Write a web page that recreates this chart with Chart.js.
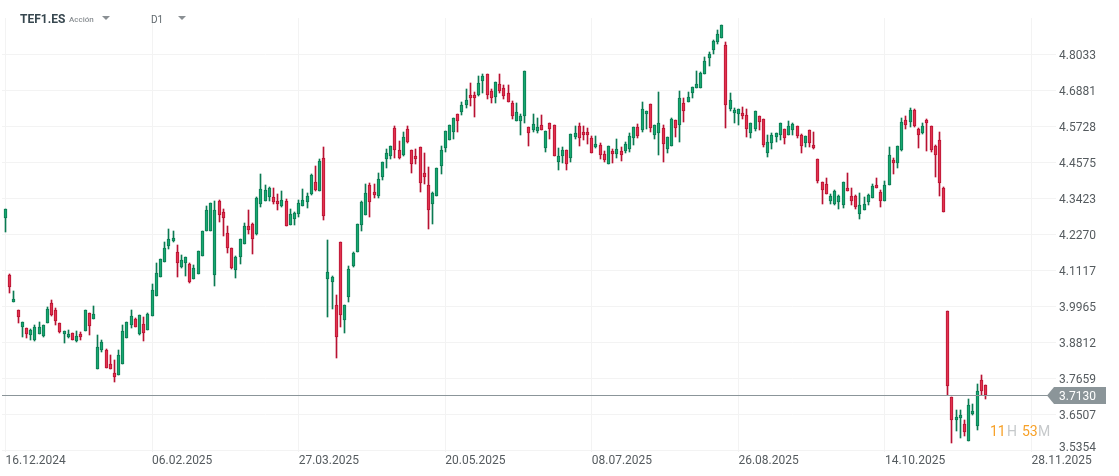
<!DOCTYPE html>
<html>
<head>
<meta charset="utf-8">
<title>TEF1.ES</title>
<script src="https://cdn.jsdelivr.net/npm/chart.js@4"></script>
<style>
    html, body { margin: 0; padding: 0; background: #fff; overflow: hidden; }
    body { width: 1119px; height: 476px; position: relative; font-family: Roboto, sans-serif; }
    canvas { position: absolute; left: 0; top: 0; }
    .lbl { position: absolute; white-space: nowrap; line-height: 1; }
    .tri { position: absolute; width: 0; height: 0; border-left: 4px solid transparent; border-right: 4px solid transparent; border-top: 4px solid #8a8f93; }
</style>
</head>
<body>
<canvas id="chart" width="1119" height="476"></canvas>
<div class="lbl" style="left:20px;top:13px;font-size:12px;font-weight:700;color:#37474f">TEF1.ES</div>
<div class="lbl" style="left:69px;top:16px;font-size:8px;font-weight:500;color:#8a8f93">Acción</div>
<div class="tri" style="left:102px;top:16px"></div>
<div class="lbl" style="left:151px;top:15px;font-size:10px;color:#60686d">D1</div>
<div class="tri" style="left:178px;top:16px"></div>
<div class="lbl" style="left:990px;top:424px;font-size:14px;color:#f7a128">11</div>
<div class="lbl" style="left:1007px;top:424px;font-size:14px;color:#c6c9cb">H</div>
<div class="lbl" style="left:1022px;top:424px;font-size:14px;color:#f7a128">53</div>
<div class="lbl" style="left:1038px;top:424px;font-size:14px;color:#c6c9cb">M</div>
<script>
// candle values, one entry per trading day
const openPrices = [
    4.280,4.097,4.011,3.984,3.931,3.926,3.906,3.889,3.909,3.902,
    3.944,4.006,3.985,3.942,3.909,3.899,3.910,3.886,3.908,3.918,
    3.974,3.957,3.797,3.858,3.857,3.811,3.782,3.778,3.813,3.896,
    3.938,3.956,3.909,3.939,3.920,3.964,4.031,4.091,4.139,4.191,
    4.207,4.169,4.122,4.136,4.131,4.085,4.101,4.159,4.239,4.239,
    4.098,4.333,4.297,4.230,4.182,4.114,4.155,4.197,4.253,4.259,
    4.229,4.325,4.335,4.348,4.345,4.334,4.319,4.333,4.258,4.277,
    4.293,4.319,4.332,4.356,4.393,4.367,4.470,4.085,4.074,4.000,
    4.201,3.954,4.027,4.126,4.171,4.258,4.290,4.384,4.361,4.351,
    4.412,4.469,4.479,4.566,4.496,4.482,4.563,4.496,4.477,4.506,
    4.422,4.384,4.325,4.351,4.447,4.505,4.528,4.556,4.611,4.620,
    4.642,4.672,4.672,4.674,4.719,4.739,4.685,4.668,4.707,4.694,
    4.678,4.646,4.591,4.591,4.605,4.570,4.562,4.559,4.576,4.502,
    4.582,4.576,4.460,4.479,4.496,4.473,4.540,4.573,4.554,4.554,
    4.534,4.508,4.512,4.483,4.453,4.493,4.485,4.493,4.495,4.501,
    4.537,4.570,4.562,4.613,4.643,4.546,4.553,4.566,4.501,4.511,
    4.592,4.578,4.647,4.650,4.681,4.695,4.695,4.741,4.793,4.818,
    4.844,4.855,4.832,4.629,4.617,4.613,4.614,4.608,4.553,4.565,
    4.605,4.595,4.488,4.520,4.540,4.546,4.563,4.546,4.562,4.573,
    4.544,4.520,4.560,4.512,4.467,4.394,4.387,4.335,4.325,4.332,
    4.322,4.374,4.349,4.349,4.293,4.306,4.332,4.344,4.384,4.361,
    4.335,4.384,4.465,4.456,4.498,4.592,4.586,4.624,4.563,4.553,
    4.592,4.573,4.509,4.528,4.374,3.981,3.705,3.634,3.640,3.619,
    3.566,3.653,3.614,3.760,3.744
];
const highPrices = [
    4.307,4.100,4.046,3.984,3.945,3.926,3.924,3.937,3.946,3.936,
    3.994,4.017,3.990,3.944,3.916,3.921,3.910,3.917,3.914,3.984,
    3.974,3.997,3.905,3.889,3.859,3.841,3.825,3.857,3.937,3.945,
    3.985,3.958,3.968,3.962,3.974,4.068,4.135,4.147,4.202,4.243,
    4.238,4.193,4.161,4.156,4.134,4.129,4.173,4.237,4.318,4.326,
    4.334,4.337,4.307,4.253,4.182,4.157,4.211,4.262,4.305,4.262,
    4.345,4.420,4.384,4.377,4.374,4.355,4.366,4.339,4.307,4.297,
    4.336,4.371,4.358,4.420,4.446,4.468,4.506,4.209,4.093,4.033,
    4.201,4.000,4.126,4.169,4.259,4.333,4.387,4.390,4.387,4.422,
    4.458,4.500,4.509,4.574,4.526,4.555,4.574,4.496,4.499,4.506,
    4.486,4.442,4.361,4.438,4.509,4.557,4.576,4.598,4.611,4.650,
    4.692,4.712,4.683,4.734,4.739,4.739,4.691,4.714,4.740,4.705,
    4.705,4.653,4.646,4.611,4.749,4.570,4.612,4.598,4.609,4.557,
    4.582,4.576,4.502,4.507,4.496,4.547,4.573,4.582,4.573,4.566,
    4.541,4.541,4.520,4.494,4.509,4.499,4.531,4.508,4.522,4.550,
    4.570,4.579,4.650,4.621,4.643,4.576,4.682,4.576,4.538,4.598,
    4.592,4.685,4.663,4.682,4.698,4.750,4.746,4.795,4.810,4.849,
    4.881,4.896,4.842,4.679,4.630,4.627,4.634,4.627,4.582,4.621,
    4.605,4.595,4.544,4.553,4.550,4.582,4.563,4.589,4.582,4.573,
    4.547,4.541,4.560,4.555,4.467,4.394,4.406,4.355,4.369,4.352,
    4.394,4.422,4.374,4.352,4.358,4.348,4.355,4.387,4.406,4.369,
    4.398,4.506,4.473,4.509,4.598,4.605,4.630,4.627,4.566,4.582,
    4.595,4.575,4.512,4.555,4.377,3.981,3.705,3.664,3.663,3.631,
    3.699,3.683,3.747,3.776,3.744
];
const lowPrices = [
    4.234,4.040,4.011,3.944,3.899,3.896,3.890,3.886,3.907,3.899,
    3.944,3.967,3.938,3.912,3.879,3.896,3.890,3.883,3.889,3.918,
    3.905,3.957,3.797,3.851,3.800,3.797,3.755,3.778,3.813,3.894,
    3.928,3.931,3.906,3.886,3.920,3.964,4.031,4.091,4.139,4.181,
    4.203,4.091,4.119,4.095,4.072,4.085,4.101,4.159,4.239,4.239,
    4.063,4.266,4.222,4.168,4.117,4.087,4.132,4.197,4.228,4.164,
    4.225,4.315,4.335,4.334,4.324,4.305,4.315,4.255,4.258,4.257,
    4.281,4.319,4.311,4.353,4.367,4.367,4.273,3.963,3.989,3.831,
    3.931,3.912,4.010,4.123,4.171,4.238,4.290,4.281,4.344,4.344,
    4.401,4.441,4.469,4.473,4.469,4.479,4.521,4.425,4.453,4.363,
    4.388,4.245,4.261,4.351,4.421,4.492,4.528,4.533,4.556,4.609,
    4.633,4.638,4.604,4.671,4.681,4.661,4.649,4.649,4.681,4.661,
    4.650,4.596,4.591,4.546,4.585,4.510,4.555,4.553,4.562,4.491,
    4.532,4.479,4.433,4.457,4.434,4.459,4.532,4.511,4.529,4.516,
    4.489,4.503,4.469,4.460,4.453,4.457,4.473,4.463,4.489,4.492,
    4.514,4.537,4.556,4.565,4.556,4.532,4.482,4.460,4.489,4.511,
    4.540,4.524,4.588,4.650,4.665,4.695,4.695,4.739,4.767,4.806,
    4.838,4.855,4.569,4.623,4.585,4.578,4.597,4.540,4.537,4.559,
    4.561,4.508,4.476,4.501,4.524,4.529,4.516,4.546,4.546,4.534,
    4.488,4.508,4.506,4.501,4.392,4.325,4.357,4.324,4.322,4.309,
    4.312,4.367,4.322,4.309,4.276,4.306,4.322,4.344,4.376,4.316,
    4.335,4.384,4.421,4.440,4.495,4.563,4.572,4.572,4.503,4.549,
    4.495,4.492,4.412,4.350,4.300,3.712,3.560,3.598,3.576,3.582,
    3.566,3.647,3.600,3.712,3.700
];
const closePrices = [
    4.307,4.059,4.019,3.963,3.945,3.909,3.920,3.929,3.929,3.936,
    3.987,3.970,3.950,3.915,3.916,3.907,3.890,3.900,3.899,3.984,
    3.934,3.971,3.865,3.881,3.800,3.797,3.771,3.840,3.916,3.945,
    3.964,3.931,3.968,3.912,3.971,4.048,4.102,4.147,4.182,4.211,
    4.214,4.136,4.144,4.156,4.075,4.118,4.173,4.237,4.304,4.326,
    4.304,4.290,4.280,4.184,4.120,4.153,4.211,4.253,4.242,4.213,
    4.342,4.371,4.368,4.374,4.331,4.325,4.336,4.255,4.291,4.294,
    4.326,4.336,4.349,4.416,4.370,4.461,4.287,4.105,4.089,3.899,
    3.970,4.000,4.115,4.166,4.259,4.329,4.358,4.332,4.354,4.403,
    4.458,4.486,4.509,4.498,4.473,4.538,4.524,4.453,4.469,4.392,
    4.412,4.306,4.358,4.438,4.496,4.557,4.576,4.598,4.589,4.640,
    4.656,4.665,4.665,4.711,4.733,4.674,4.665,4.714,4.686,4.671,
    4.652,4.607,4.618,4.605,4.749,4.553,4.579,4.570,4.562,4.557,
    4.565,4.479,4.477,4.496,4.453,4.547,4.550,4.537,4.546,4.546,
    4.489,4.515,4.482,4.466,4.509,4.485,4.499,4.482,4.515,4.541,
    4.570,4.543,4.627,4.621,4.569,4.576,4.582,4.517,4.538,4.595,
    4.569,4.663,4.623,4.666,4.698,4.707,4.743,4.781,4.803,4.846,
    4.867,4.896,4.640,4.656,4.624,4.627,4.607,4.563,4.582,4.621,
    4.588,4.514,4.522,4.544,4.550,4.582,4.537,4.573,4.579,4.543,
    4.511,4.541,4.520,4.503,4.399,4.370,4.357,4.349,4.366,4.349,
    4.394,4.367,4.335,4.316,4.322,4.323,4.352,4.381,4.376,4.335,
    4.384,4.480,4.456,4.509,4.586,4.578,4.624,4.575,4.544,4.573,
    4.582,4.498,4.480,4.390,4.300,3.742,3.634,3.641,3.647,3.595,
    3.679,3.660,3.724,3.726,3.713
];

// axis labels
const dateTicks = [0, 35, 70, 105, 140, 175, 210, 245];
const dateLabels = ['16.12.2024', '06.02.2025', '27.03.2025', '20.05.2025', '08.07.2025', '26.08.2025', '14.10.2025', '28.11.2025'];
const priceTicks = [3.5354, 3.6507, 3.7659, 3.8812, 3.9965, 4.1117, 4.2270, 4.3423, 4.4575, 4.5728, 4.6881, 4.8033];
const lastPrice = 3.7130;

const isDown = closePrices.map((c, i) => c < openPrices[i]);

// snap the bars to whole pixels so the candles stay sharp, then draw the price line and its tag
const candlePlugin = {
    id: 'candlePlugin',
    beforeDatasetsDraw(chart) {
        chart.data.datasets.forEach((ds, d) => {
            chart.getDatasetMeta(d).data.forEach(bar => {
                bar.x = Math.floor(bar.x) + 0.5;
                bar.y = Math.round(bar.y);
                bar.base = Math.round(bar.base);
            });
        });
    },
    afterDatasetsDraw(chart) {
        const ctx = chart.ctx;
        const y = Math.round(chart.scales.y.getPixelForValue(lastPrice)) + 0.5;
        ctx.save();
        ctx.strokeStyle = '#8b9599';
        ctx.lineWidth = 1;
        ctx.beginPath();
        ctx.moveTo(2, y);
        ctx.lineTo(1050, y);
        ctx.stroke();
        ctx.fillStyle = '#8b9599';
        ctx.beginPath();
        ctx.moveTo(1047, y);
        ctx.lineTo(1054, y - 8.5);
        ctx.lineTo(1106, y - 8.5);
        ctx.lineTo(1106, y + 8.5);
        ctx.lineTo(1054, y + 8.5);
        ctx.closePath();
        ctx.fill();
        ctx.fillStyle = '#ffffff';
        ctx.font = '12px Roboto';
        ctx.textBaseline = 'middle';
        ctx.fillText(lastPrice.toFixed(4), 1059, y + 1);
        ctx.restore();
    }
};

new Chart(document.getElementById('chart').getContext('2d'), {
    type: 'bar',
    data: {
        datasets: [{
            label: 'Body',
            data: openPrices.map((o, i) => ({ x: i, y: [o, closePrices[i]] })),
            backgroundColor: isDown.map(d => d ? '#e2334f' : '#17a870'),
            borderColor: isDown.map(d => d ? '#b81232' : '#0b7a52'),
            borderWidth: 1,
            borderSkipped: false,
            barThickness: 3,
            grouped: false
        }, {
            label: 'Wick',
            data: lowPrices.map((l, i) => ({ x: i, y: [l, highPrices[i]] })),
            backgroundColor: isDown.map(d => d ? '#b81232' : '#0b7a52'),
            borderWidth: 0,
            barThickness: 1,
            grouped: false
        }]
    },
    options: {
        responsive: false,
        animation: false,
        devicePixelRatio: 1,
        layout: { padding: { left: 2, top: 18, right: 0, bottom: 0 } },
        plugins: { legend: { display: false }, tooltip: { enabled: false } },
        scales: {
            x: {
                type: 'linear',
                offset: false,
                min: -0.836,
                max: 250.84,
                border: { display: false },
                grid: { color: '#f3f3f3', drawTicks: false, offset: false },
                afterBuildTicks(scale) {
                    scale.ticks = dateTicks.map(v => ({ value: v }));
                },
                afterFit(scale) {
                    scale.height = 24;
                },
                ticks: {
                    autoSkip: false,
                    maxRotation: 0,
                    align: 'start',
                    padding: 2,
                    color: '#555b5f',
                    font: { family: 'Roboto', size: 12 },
                    callback: v => dateLabels[dateTicks.indexOf(v)]
                }
            },
            y: {
                position: 'right',
                min: 3.5301,
                max: 4.9197,
                border: { display: false },
                grid: { color: '#f3f3f3', drawTicks: false },
                afterBuildTicks(scale) {
                    scale.ticks = priceTicks.map(v => ({ value: v }));
                },
                afterFit(scale) {
                    scale.width = 63;
                },
                ticks: {
                    autoSkip: false,
                    crossAlign: 'near',
                    padding: 3,
                    color: '#555b5f',
                    // empty line nudges a label: down for most, up for the lowest so it clears the dates
                    font: { family: 'Roboto', size: 12, lineHeight: 0.33 },
                    callback: (v, i) => i === 0 ? [v.toFixed(4), ''] : ['', v.toFixed(4)]
                }
            }
        }
    },
    plugins: [candlePlugin]
});
</script>
</body>
</html>
